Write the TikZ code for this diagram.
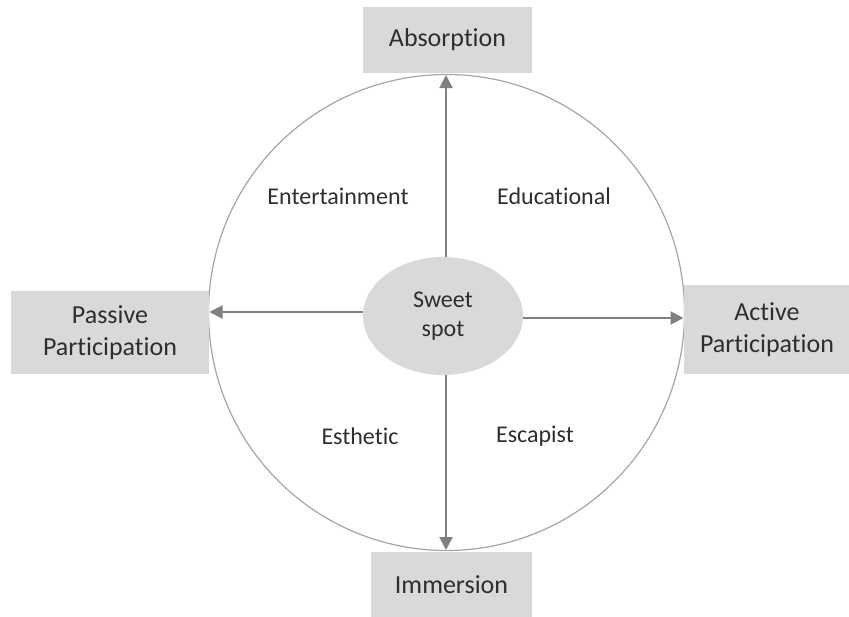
\documentclass[tikz,border=0pt]{standalone}
\usepackage{fontspec}
\setmainfont{Carlito}[Ligatures={NoCommon}]
\usetikzlibrary{arrows.meta,shapes.geometric}
\definecolor{boxgray}{HTML}{D9D9D9}
\definecolor{linegray}{HTML}{808080}
\definecolor{ringgray}{HTML}{A6A6A6}
\definecolor{ink}{HTML}{2E2E2E}
\tikzset{
  labelbox/.style={fill=boxgray, draw=none, inner sep=0pt, text=ink,
    font=\fontsize{26}{31.5}\selectfont, align=center},
  quadlabel/.style={text=ink, font=\fontsize{24}{29}\selectfont, inner sep=0pt},
  axis/.style={draw=linegray, line width=2pt, -{Triangle[length=13pt,width=13pt]}},
}
\begin{document}
\begin{tikzpicture}[x=1pt,y=-1pt]
  \useasboundingbox (0,0) rectangle (849,616);
  % outer ring
  \node[circle, draw=ringgray, line width=1.2pt, minimum size=476pt, inner sep=0pt] (ring) at (446.5,312.5) {};
  % centre ellipse
  \node[ellipse, fill=boxgray, minimum width=160pt, minimum height=118pt, inner sep=0pt,
        text=ink, font=\fontsize{24}{29}\selectfont, align=center] (spot) at (443,316) {Sweet\\spot};
  % axis end points on the ring
  \coordinate (topend) at (446,75);
  \coordinate (botend) at (446,550);
  \coordinate (leftend) at (209.5,312);
  \coordinate (rightend) at (683.5,318);
  \coordinate (topstart) at (446,257);
  \coordinate (botstart) at (446,375);
  \coordinate (leftstart) at (363,312);
  \coordinate (rightstart) at (523,318);
  \draw[axis] (topstart) -- (topend);
  \draw[axis] (botstart) -- (botend);
  \draw[axis] (leftstart) -- (leftend);
  \draw[axis] (rightstart) -- (rightend);
  % pole boxes
  \node[labelbox, minimum width=169pt, minimum height=66pt] (absorp) at (447.5,40) {Absorption};
  \node[labelbox, minimum width=161pt, minimum height=66pt] (immers) at (451.5,585) {Immersion};
  \node[labelbox, minimum width=198pt, minimum height=83pt] (passive) at (110,332.5) {Passive\\Participation};
  \node[labelbox, minimum width=166pt, minimum height=89pt] (active) at (767,329.5) {Active\\Participation};
  % quadrant labels
  \node[quadlabel] (ent) at (338,196) {Entertainment};
  \node[quadlabel] (edu) at (554,196) {Educational};
  \node[quadlabel] (est) at (360,436) {Esthetic};
  \node[quadlabel] (esc) at (535,436) {Escapist};
\end{tikzpicture}
\end{document}
